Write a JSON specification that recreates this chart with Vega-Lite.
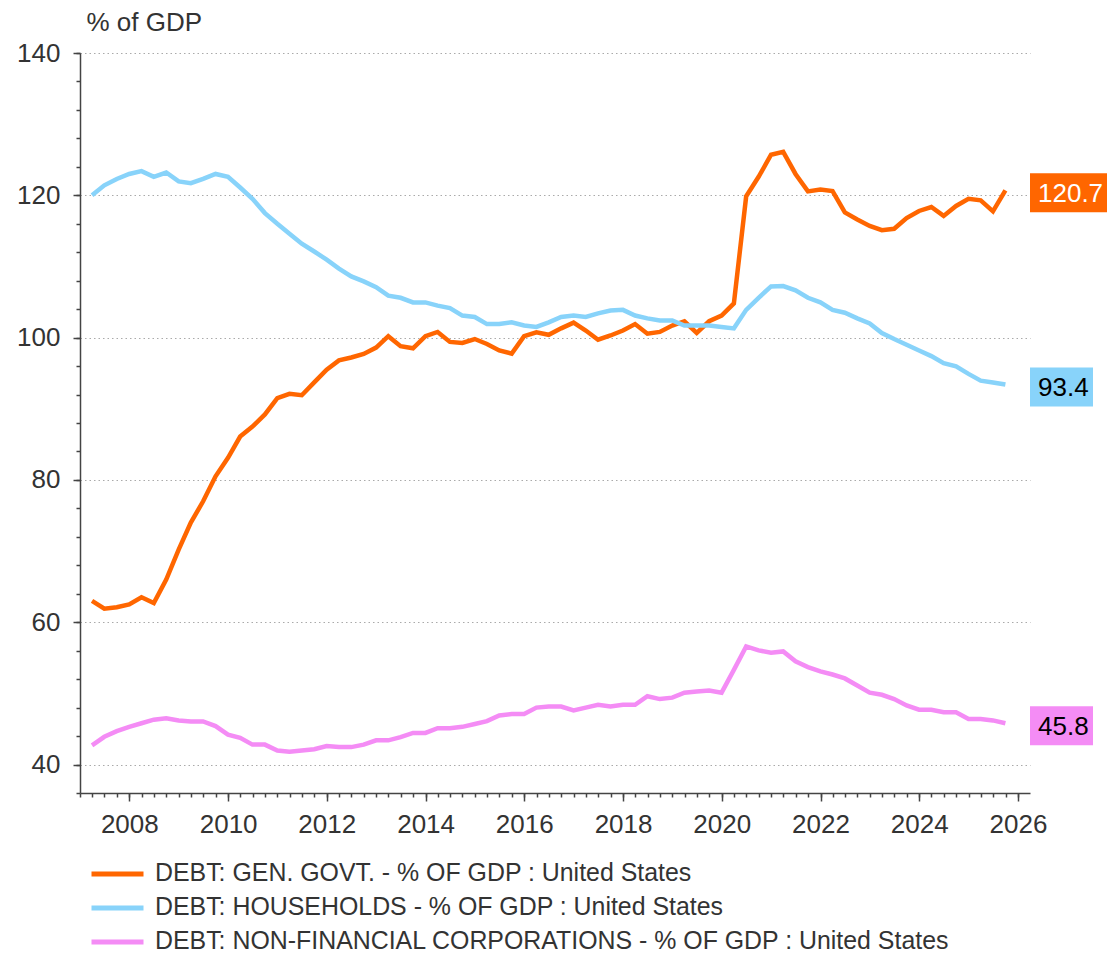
{
  "$schema": "https://vega.github.io/schema/vega-lite/v6.json",
  "autosize": {"type": "none"},
  "padding": {"left": 80, "top": 53, "right": 79, "bottom": 163},
  "width": 950,
  "height": 740,
  "background": "white",
  "config": {
    "view": {"stroke": null},
    "font": "Liberation Sans",
    "axis": {"labelFont": "Liberation Sans", "titleFont": "Liberation Sans", "labelColor": "#333", "titleColor": "#333"},
    "legend": {"labelFont": "Liberation Sans"}
  },
  "data": {
    "values": [
      {"d": "2007-03-31", "gov": 63.0, "hh": 120.0, "nfc": 42.7},
      {"d": "2007-06-30", "gov": 61.9, "hh": 121.4, "nfc": 43.9},
      {"d": "2007-09-30", "gov": 62.1, "hh": 122.3, "nfc": 44.7},
      {"d": "2007-12-31", "gov": 62.5, "hh": 123.0, "nfc": 45.3},
      {"d": "2008-03-31", "gov": 63.5, "hh": 123.4, "nfc": 45.8},
      {"d": "2008-06-30", "gov": 62.7, "hh": 122.6, "nfc": 46.3},
      {"d": "2008-09-30", "gov": 66.0, "hh": 123.2, "nfc": 46.5},
      {"d": "2008-12-31", "gov": 70.2, "hh": 121.95, "nfc": 46.2},
      {"d": "2009-03-31", "gov": 74.0, "hh": 121.7, "nfc": 46.05},
      {"d": "2009-06-30", "gov": 77.0, "hh": 122.3, "nfc": 46.05},
      {"d": "2009-09-30", "gov": 80.5, "hh": 123.0, "nfc": 45.4},
      {"d": "2009-12-31", "gov": 83.1, "hh": 122.6, "nfc": 44.2},
      {"d": "2010-03-31", "gov": 86.1, "hh": 121.1, "nfc": 43.75},
      {"d": "2010-06-30", "gov": 87.5, "hh": 119.5, "nfc": 42.8},
      {"d": "2010-09-30", "gov": 89.2, "hh": 117.5, "nfc": 42.8},
      {"d": "2010-12-31", "gov": 91.5, "hh": 116.0, "nfc": 41.97},
      {"d": "2011-03-31", "gov": 92.1, "hh": 114.6, "nfc": 41.8},
      {"d": "2011-06-30", "gov": 91.9, "hh": 113.2, "nfc": 41.97},
      {"d": "2011-09-30", "gov": 93.7, "hh": 112.1, "nfc": 42.15},
      {"d": "2011-12-31", "gov": 95.5, "hh": 110.95, "nfc": 42.6},
      {"d": "2012-03-31", "gov": 96.8, "hh": 109.7, "nfc": 42.45},
      {"d": "2012-06-30", "gov": 97.2, "hh": 108.6, "nfc": 42.45},
      {"d": "2012-09-30", "gov": 97.7, "hh": 107.9, "nfc": 42.8},
      {"d": "2012-12-31", "gov": 98.6, "hh": 107.1, "nfc": 43.4},
      {"d": "2013-03-31", "gov": 100.2, "hh": 105.9, "nfc": 43.4},
      {"d": "2013-06-30", "gov": 98.8, "hh": 105.6, "nfc": 43.85},
      {"d": "2013-09-30", "gov": 98.5, "hh": 104.95, "nfc": 44.45},
      {"d": "2013-12-31", "gov": 100.2, "hh": 104.95, "nfc": 44.45},
      {"d": "2014-03-31", "gov": 100.8, "hh": 104.5, "nfc": 45.1},
      {"d": "2014-06-30", "gov": 99.4, "hh": 104.15, "nfc": 45.1},
      {"d": "2014-09-30", "gov": 99.25, "hh": 103.1, "nfc": 45.3},
      {"d": "2014-12-31", "gov": 99.8, "hh": 102.9, "nfc": 45.7},
      {"d": "2015-03-31", "gov": 99.1, "hh": 101.9, "nfc": 46.1},
      {"d": "2015-06-30", "gov": 98.2, "hh": 101.9, "nfc": 46.9},
      {"d": "2015-09-30", "gov": 97.75, "hh": 102.15, "nfc": 47.1},
      {"d": "2015-12-31", "gov": 100.2, "hh": 101.7, "nfc": 47.1},
      {"d": "2016-03-31", "gov": 100.75, "hh": 101.5, "nfc": 48.0},
      {"d": "2016-06-30", "gov": 100.4, "hh": 102.15, "nfc": 48.15},
      {"d": "2016-09-30", "gov": 101.3, "hh": 102.9, "nfc": 48.15},
      {"d": "2016-12-31", "gov": 102.1, "hh": 103.1, "nfc": 47.6},
      {"d": "2017-03-31", "gov": 101.0, "hh": 102.9, "nfc": 48.0},
      {"d": "2017-06-30", "gov": 99.7, "hh": 103.4, "nfc": 48.4},
      {"d": "2017-09-30", "gov": 100.3, "hh": 103.8, "nfc": 48.15},
      {"d": "2017-12-31", "gov": 101.0, "hh": 103.9, "nfc": 48.4},
      {"d": "2018-03-31", "gov": 101.9, "hh": 103.1, "nfc": 48.4},
      {"d": "2018-06-30", "gov": 100.55, "hh": 102.7, "nfc": 49.6},
      {"d": "2018-09-30", "gov": 100.8, "hh": 102.4, "nfc": 49.2},
      {"d": "2018-12-31", "gov": 101.7, "hh": 102.4, "nfc": 49.4},
      {"d": "2019-03-31", "gov": 102.3, "hh": 101.7, "nfc": 50.1},
      {"d": "2019-06-30", "gov": 100.65, "hh": 101.7, "nfc": 50.25},
      {"d": "2019-09-30", "gov": 102.3, "hh": 101.7, "nfc": 50.4},
      {"d": "2019-12-31", "gov": 103.1, "hh": 101.5, "nfc": 50.1},
      {"d": "2020-03-31", "gov": 104.8, "hh": 101.3, "nfc": 53.3},
      {"d": "2020-06-30", "gov": 119.85, "hh": 103.9, "nfc": 56.6},
      {"d": "2020-09-30", "gov": 122.6, "hh": 105.6, "nfc": 56.05},
      {"d": "2020-12-31", "gov": 125.7, "hh": 107.2, "nfc": 55.7},
      {"d": "2021-03-31", "gov": 126.1, "hh": 107.25, "nfc": 55.9},
      {"d": "2021-06-30", "gov": 123.0, "hh": 106.65, "nfc": 54.5},
      {"d": "2021-09-30", "gov": 120.55, "hh": 105.6, "nfc": 53.7},
      {"d": "2021-12-31", "gov": 120.8, "hh": 104.95, "nfc": 53.1},
      {"d": "2022-03-31", "gov": 120.6, "hh": 103.9, "nfc": 52.65},
      {"d": "2022-06-30", "gov": 117.6, "hh": 103.5, "nfc": 52.1},
      {"d": "2022-09-30", "gov": 116.6, "hh": 102.7, "nfc": 51.1},
      {"d": "2022-12-31", "gov": 115.7, "hh": 102.0, "nfc": 50.1},
      {"d": "2023-03-31", "gov": 115.1, "hh": 100.65, "nfc": 49.8},
      {"d": "2023-06-30", "gov": 115.3, "hh": 99.8, "nfc": 49.2},
      {"d": "2023-09-30", "gov": 116.8, "hh": 99.0, "nfc": 48.3},
      {"d": "2023-12-31", "gov": 117.8, "hh": 98.2, "nfc": 47.7},
      {"d": "2024-03-31", "gov": 118.35, "hh": 97.4, "nfc": 47.7},
      {"d": "2024-06-30", "gov": 117.1, "hh": 96.4, "nfc": 47.35},
      {"d": "2024-09-30", "gov": 118.5, "hh": 95.95, "nfc": 47.35},
      {"d": "2024-12-31", "gov": 119.5, "hh": 94.9, "nfc": 46.4},
      {"d": "2025-03-31", "gov": 119.3, "hh": 93.95, "nfc": 46.4},
      {"d": "2025-06-30", "gov": 117.75, "hh": 93.7, "nfc": 46.2},
      {"d": "2025-09-30", "gov": 120.7, "hh": 93.4, "nfc": 45.8}
    ]
  },
  "transform": [{"fold": ["gov", "hh", "nfc"], "as": ["s", "v"]}],
  "resolve": {"axis": {"x": "independent", "y": "independent"}},
  "layer": [
    {
      "mark": {"type": "line", "strokeWidth": 4.5, "strokeJoin": "miter", "strokeCap": "butt"},
      "encoding": {
        "x": {
          "field": "d", "type": "temporal",
          "scale": {"domain": [{"year": 2007, "month": 1, "date": 1, "utc": true}, {"year": 2026, "month": 3, "date": 31, "utc": true}]},
          "axis": {"orient": "bottom", "title": null, "format": "%Y", "tickCount": {"interval": "year", "step": 2}, "grid": false, "tickSize": 8, "tickColor": "#444", "tickWidth": 1.5, "domainColor": "#444", "domainWidth": 1.5, "labelFontSize": 26, "labelPadding": 10, "labelFlush": false, "labelOverlap": false}
        },
        "y": {
          "field": "v", "type": "quantitative",
          "scale": {"domain": [36, 140], "nice": false, "zero": false},
          "axis": {"orient": "left", "values": [40, 60, 80, 100, 120, 140], "title": "% of GDP", "titleAngle": 0, "titleAlign": "left", "titleBaseline": "alphabetic", "titleX": 6, "titleY": -23, "titleFontSize": 26, "titleFontWeight": "normal", "grid": true, "gridDash": [1.5, 3], "gridColor": "#aaa", "gridWidth": 1, "tickSize": 7, "tickColor": "#444", "tickWidth": 1.5, "domainColor": "#444", "domainWidth": 1.5, "labelFontSize": 26, "labelPadding": 13}
        },
        "color": {
          "field": "s", "type": "nominal",
          "scale": {"domain": ["gov", "hh", "nfc"], "range": ["#FF6600", "#88D3FA", "#F48CF5"]},
          "legend": {
            "orient": "none", "legendX": 9, "legendY": 804, "padding": 0, "direction": "vertical", "title": null,
            "symbolType": "stroke", "symbolSize": 2704, "symbolStrokeWidth": 5, "clipHeight": 34,
            "labelFontSize": 24.9, "labelColor": "#333", "labelOffset": 9, "rowPadding": 0, "labelLimit": 1000,
            "labelExpr": "datum.value == 'gov' ? 'DEBT: GEN. GOVT. - % OF GDP : United States' : datum.value == 'hh' ? 'DEBT: HOUSEHOLDS - % OF GDP : United States' : 'DEBT: NON-FINANCIAL CORPORATIONS - % OF GDP : United States'"
          }
        }
      }
    },
    {
      "mark": {"type": "point", "opacity": 0},
      "encoding": {
        "x": {"field": "d", "type": "temporal", "axis": {"orient": "bottom", "title": null, "labels": false, "domain": false, "grid": false, "tickCount": {"interval": "month", "step": 3}, "tickSize": 4, "tickColor": "#444", "tickWidth": 1.5}},
        "y": {"field": "v", "type": "quantitative", "axis": {"orient": "left", "title": null, "labels": false, "domain": false, "grid": false, "values": [36, 40, 44, 48, 52, 56, 60, 64, 68, 72, 76, 80, 84, 88, 92, 96, 100, 104, 108, 112, 116, 120, 124, 128, 132, 136, 140], "tickSize": 4, "tickColor": "#444", "tickWidth": 1.5}}
      }
    },
    {
      "transform": [{"filter": {"timeUnit": "yearmonthdate", "field": "d", "equal": {"year": 2025, "month": 9, "date": 30}}}, {"filter": "datum.s == 'gov'"}],
      "mark": {"type": "rect", "x2Offset": 77, "yOffset": -17, "y2Offset": 22, "fill": "#FF6600"},
      "encoding": {
        "x": {"datum": {"year": 2026, "month": 3, "date": 31, "utc": true}, "type": "temporal", "axis": null},
        "x2": {"datum": {"year": 2026, "month": 3, "date": 31, "utc": true}},
        "y": {"field": "v", "type": "quantitative", "axis": null},
        "y2": {"field": "v"}
      }
    },
    {
      "transform": [{"filter": {"timeUnit": "yearmonthdate", "field": "d", "equal": {"year": 2025, "month": 9, "date": 30}}}, {"filter": "datum.s != 'gov'"}],
      "mark": {"type": "rect", "x2Offset": 63, "yOffset": -17, "y2Offset": 22},
      "encoding": {
        "x": {"datum": {"year": 2026, "month": 3, "date": 31, "utc": true}, "type": "temporal", "axis": null},
        "x2": {"datum": {"year": 2026, "month": 3, "date": 31, "utc": true}},
        "y": {"field": "v", "type": "quantitative", "axis": null},
        "y2": {"field": "v"},
        "fill": {"field": "s", "type": "nominal", "scale": {"domain": ["gov", "hh", "nfc"], "range": ["#FF6600", "#88D3FA", "#F48CF5"]}, "legend": null}
      }
    },
    {
      "transform": [{"filter": {"timeUnit": "yearmonthdate", "field": "d", "equal": {"year": 2025, "month": 9, "date": 30}}}],
      "mark": {"type": "text", "align": "left", "baseline": "middle", "xOffset": 8, "yOffset": 3.5, "fontSize": 26, "font": "Liberation Sans"},
      "encoding": {
        "x": {"datum": {"year": 2026, "month": 3, "date": 31, "utc": true}, "type": "temporal", "axis": null},
        "y": {"field": "v", "type": "quantitative", "axis": null},
        "text": {"field": "v", "type": "quantitative", "format": ".1f"},
        "color": {"condition": {"test": "datum.s == 'gov'", "value": "white"}, "value": "black"}
      }
    }
  ]
}
